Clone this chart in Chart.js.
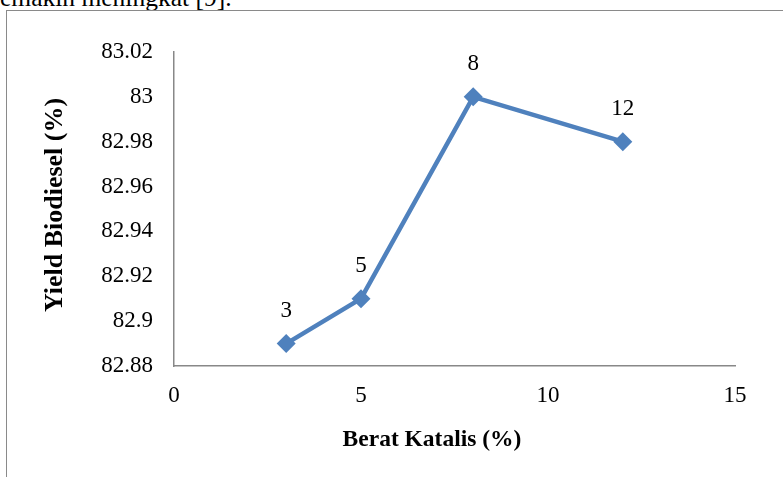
<!DOCTYPE html>
<html>
<head>
<meta charset="utf-8">
<script src="https://cdn.jsdelivr.net/npm/chart.js@4/dist/chart.umd.min.js"></script>
<style>
  html, body { margin: 0; padding: 0; background: #fff; overflow: hidden; }
  #wrap { position: relative; width: 783px; height: 477px; }
  #chart { position: absolute; left: 0; top: 0; }
  #topText { position: absolute; left: 0; top: -15px; font-family: "Liberation Serif", serif; font-size: 25.5px; line-height: 26px; color: #000; white-space: nowrap; }
  #frameTop { position: absolute; left: 7px; top: 10px; width: 776px; height: 0; border-top: 1.5px solid #8a8a8a; }
  #frameLeft { position: absolute; left: 6px; top: 10px; width: 0; height: 467px; border-left: 1.5px solid #8a8a8a; }
</style>
</head>
<body>
<div id="wrap">
  <div id="topText">emakin meningkat [9].</div>
  <div id="frameTop"></div>
  <div id="frameLeft"></div>
  <canvas id="chart" width="783" height="477"></canvas>
</div>
<script>
const beratKatalis = [3, 5, 8, 12];
const yieldBiodiesel = [82.89, 82.91, 83.0, 82.98];
const pointLabels = ['3', '5', '8', '12'];
const xTitle = 'Berat Katalis (%)';
const yTitle = 'Yield Biodiesel (%)';

const serif = '"Liberation Serif", "Times New Roman", serif';

// draws the x value above every point
const pointLabelPlugin = {
    id: 'pointLabels',
    afterDatasetsDraw(chart) {
        const ctx = chart.ctx;
        const meta = chart.getDatasetMeta(0);
        ctx.save();
        ctx.font = '23px ' + serif;
        ctx.fillStyle = '#000';
        ctx.textAlign = 'center';
        ctx.textBaseline = 'middle';
        meta.data.forEach((pt, i) => {
            ctx.fillText(pointLabels[i], pt.x, pt.y - 33);
        });
        ctx.restore();
    }
};

// axis titles, placed like the Excel original (not centred on the plot area)
const axisTitlePlugin = {
    id: 'axisTitles',
    afterDraw(chart) {
        const ctx = chart.ctx;
        ctx.save();
        ctx.fillStyle = '#000';
        ctx.textAlign = 'center';
        ctx.textBaseline = 'middle';
        ctx.font = 'bold 23.5px ' + serif;
        ctx.fillText(xTitle, 432, 440);
        ctx.translate(55, 205);
        ctx.rotate(-Math.PI / 2);
        ctx.font = 'bold 26px ' + serif;
        ctx.fillText(yTitle, 0, 0);
        ctx.restore();
    }
};

const ctx = document.getElementById('chart').getContext('2d');
new Chart(ctx, {
    type: 'line',
    data: {
        datasets: [{
            data: beratKatalis.map((x, i) => ({ x: x, y: yieldBiodiesel[i] })),
            borderColor: '#4F81BD',
            backgroundColor: '#4F81BD',
            borderWidth: 4.5,
            pointStyle: 'rectRot',
            pointRadius: 9.5,
            pointHoverRadius: 9.5,
            pointBorderWidth: 0,
            tension: 0
        }]
    },
    options: {
        responsive: false,
        animation: false,
        events: [],
        layout: { padding: { top: 52, right: 48, bottom: 0, left: 0 } },
        plugins: {
            legend: { display: false },
            tooltip: { enabled: false }
        },
        scales: {
            x: {
                type: 'linear',
                min: 0,
                max: 15,
                grid: { display: false, drawTicks: false },
                border: { display: true, color: '#888', width: 1.5 },
                ticks: {
                    stepSize: 5,
                    padding: 16,
                    color: '#000',
                    font: { family: serif, size: 23 }
                },
                afterFit(scale) { scale.height = 111; }
            },
            y: {
                min: 82.88,
                max: 83.02,
                grid: { display: false, drawTicks: false },
                border: { display: true, color: '#888', width: 1.5 },
                ticks: {
                    stepSize: 0.02,
                    padding: 21,
                    color: '#000',
                    font: { family: serif, size: 23 },
                    callback: v => String(Math.round(v * 100) / 100)
                },
                afterFit(scale) { scale.width = 174; }
            }
        }
    },
    plugins: [pointLabelPlugin, axisTitlePlugin]
});
</script>
</body>
</html>
